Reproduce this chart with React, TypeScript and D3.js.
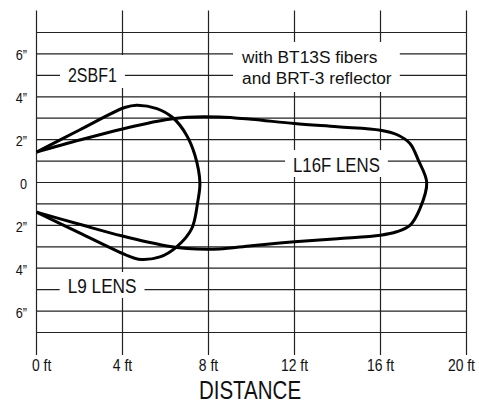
import { useEffect, useRef } from "react";
import * as d3 from "d3";

const W = 479;
const H = 404;

// distance axis (feet) and its labels
const FEET = [0, 4, 8, 12, 16, 20];
const FEET_LABELS = ["0 ft", "4 ft", "8 ft", "12 ft", "16 ft", "20 ft"];

// beam width grid (inches)
const INCH_LINES = [-7, -6, -5, -4, -3, -2, -1, 0, 1, 2, 3, 4, 5, 6, 7];
const INCH_TICKS = [6, 4, 2, 0, -2, -4, -6];
const INCH_LABELS = ["6\u201D", "4\u201D", "2\u201D", "0", "2\u201D", "4\u201D", "6\u201D"];

// beam outlines: [feet, inches], upper edge then lower edge
const L9_LENS: [number, number][] = [
  [0, 1.42], [2, 2.45], [4.1, 3.5], [4.66, 3.61], [5.6, 3.45], [6.36, 3.01],
  [6.98, 2.21], [7.37, 1.27], [7.6, 0], [7.5, -0.9], [7.22, -2.15], [6.52, -3.0],
  [5.74, -3.47], [4.74, -3.58], [4.2, -3.4], [2, -2.35], [0, -1.38],
];

const L16F_LENS: [number, number][] = [
  [0, 1.42], [2, 1.98], [4, 2.5], [6, 2.93], [7, 3.05], [8.5, 3.06], [10, 2.95],
  [12, 2.75], [14, 2.6], [16, 2.44], [16.75, 2.24], [17.37, 1.82], [17.76, 1.04],
  [18.15, 0], [17.84, -1.21], [17.37, -2.0], [16.75, -2.3], [16, -2.46], [14, -2.62],
  [12, -2.77], [10, -2.95], [8.5, -3.1], [7, -3.08], [6, -2.95], [4, -2.5],
  [2, -1.95], [0, -1.38],
];

const FONT = "'Liberation Sans', Arial, sans-serif";
const NARROW = 0.82; // no narrow face installed, squeeze horizontally instead

export default function App() {
  const svgRef = useRef<SVGSVGElement>(null);

  useEffect(() => {
    if (!svgRef.current) return;
    const svg = d3.select(svgRef.current);
    svg.selectAll("*").remove();

    const x = d3.scaleLinear().domain([0, 20]).range([36.5, 466.5]);
    const y = d3.scaleLinear().domain([-7, 7]).range([332.5, 32.5]);

    const txt = (parent: any, px: number, py: number, s: string, size: number,
      anchor = "middle", sx = NARROW) =>
      parent.append("text")
        .attr("transform", `translate(${px},${py}) scale(${sx},1)`)
        .attr("text-anchor", anchor)
        .style("font-family", FONT).style("font-size", `${size}px`).style("fill", "#111")
        .text(s);

    // grid
    svg.append("g")
      .selectAll("line")
      .data(INCH_LINES)
      .join("line")
      .attr("x1", x(0)).attr("x2", x(20))
      .attr("y1", d => y(d)).attr("y2", d => y(d))
      .attr("stroke", "#222").attr("stroke-width", 1.2);

    svg.append("g")
      .selectAll("line")
      .data(FEET)
      .join("line")
      .attr("x1", d => x(d)).attr("x2", d => x(d))
      .attr("y1", 10.5).attr("y2", 355)
      .attr("stroke", "#222").attr("stroke-width", 1.2);

    // y labels
    const yl = svg.append("g");
    INCH_TICKS.forEach((d, i) => txt(yl, 27, y(d) + 6.5, INCH_LABELS[i], 15.5, "end"));

    // x labels
    const xl = svg.append("g");
    FEET.forEach((d, i) => {
      const last = i === FEET.length - 1;
      txt(xl, i === 0 ? x(d) - 4.5 : last ? x(d) + 8.5 : x(d), 371, FEET_LABELS[i], 17,
        i === 0 ? "start" : last ? "end" : "middle");
    });

    txt(svg, 250, 399, "DISTANCE", 25);

    // labels sitting on white patches over the grid
    const label = (lines: string[], px: number, baselines: number[], anchor: string,
      size: number, sx: number, box: [number, number]) => {
      const g = svg.append("g");
      const rect = g.append("rect").attr("fill", "#fff");
      const t = g.append("g");
      lines.forEach((s, i) => txt(t, px, baselines[i], s, size, anchor, sx));
      const bb = (t.node() as SVGGElement).getBBox();
      rect.attr("x", bb.x - 8).attr("width", bb.width + 16)
        .attr("y", box[0]).attr("height", box[1] - box[0]);
    };

    label(["2SBF1"], x(2.6), [82], "middle", 19.5, NARROW, [55, 88]);
    label(["with BT13S fibers", "and BRT-3 reflector"], x(9.56), [62.5, 84], "start", 17.3, 1, [42, 92]);
    label(["L16F LENS"], x(13.95), [171.5], "middle", 20.5, NARROW, [150, 177]);
    label(["L9 LENS"], x(3.05), [293], "middle", 21, NARROW, [272, 298]);

    // beam outlines
    const line = d3.line<[number, number]>()
      .x(d => x(d[0]))
      .y(d => y(d[1]))
      .curve(d3.curveCatmullRom.alpha(0.5));

    svg.append("g")
      .selectAll("path")
      .data([L9_LENS, L16F_LENS])
      .join("path")
      .attr("d", d => line(d))
      .attr("fill", "none")
      .attr("stroke", "#000")
      .attr("stroke-width", 3)
      .attr("stroke-linejoin", "round");
  }, []);

  return (
    <svg
      ref={svgRef}
      width={W}
      height={H}
      style={{ position: "absolute", left: 0, top: 0, background: "#fff", display: "block" }}
    />
  );
}
